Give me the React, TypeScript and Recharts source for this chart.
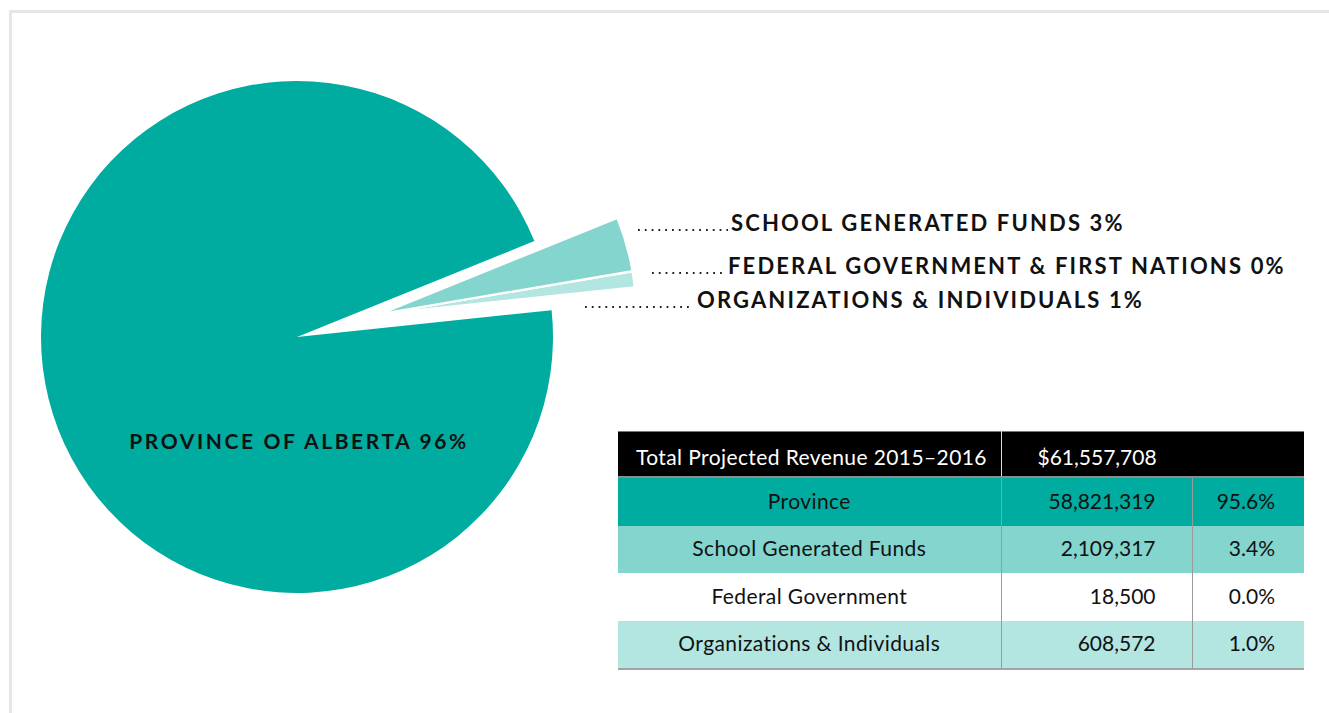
import React from "react";
import { Cell, Pie, PieChart } from "recharts";

// revenue sources, in the order they sit counter-clockwise from the 6° mark
const categories = ["Organizations & Individuals", "Federal Government", "School Generated Funds", "Province"];
const pieLabels = ["ORGANIZATIONS & INDIVIDUALS", "FEDERAL GOVERNMENT & FIRST NATIONS", "SCHOOL GENERATED FUNDS", "PROVINCE OF ALBERTA"];
const amounts = [608572, 18500, 2109317, 58821319];
const tableOrder = ["Province", "School Generated Funds", "Federal Government", "Organizations & Individuals"];
const totalLabel = "Total Projected Revenue 2015–2016";

const colors = ["#b3e5e1", "#d9f2f0", "#83d5ce", "#00ab9f"];
const rowColors: Record<string, string> = {
  Province: "#00ab9f",
  "School Generated Funds": "#83d5ce",
  "Federal Government": "#ffffff",
  "Organizations & Individuals": "#b3e5e1"
};

const data = categories.map((name, i) => ({ name, label: pieLabels[i], value: amounts[i] }));
const total = amounts.reduce((a, b) => a + b, 0);

const FONT = "Lato, 'Open Sans', sans-serif";
const CX = 297;
const CY = 337;
const R = 256;
// exploded slices are shifted out along ~15°
const EX = 83;
const EY = -23;

// where the callouts sit (text start, baseline, dotted leader span)
const callouts: Record<string, { x: number; y: number; d0: number; d1: number }> = {
  "School Generated Funds": { x: 731, y: 231, d0: 638, d1: 728 },
  "Federal Government": { x: 728, y: 274, d0: 652, d1: 725 },
  "Organizations & Individuals": { x: 697, y: 308, d0: 585, d1: 692 }
};

const fmt = (n: number) => n.toLocaleString("en-US");

function mainLabel(props: any) {
  if (props.payload?.name !== "Province") return null;
  return (
    <text
      x={props.cx + 2}
      y={props.cy + 112}
      textAnchor="middle"
      fill="#111"
      fontFamily={FONT}
      fontWeight={700}
      fontSize={21}
      letterSpacing={2.6}
    >
      {`${props.payload.label} ${Math.round(props.percent * 100)}%`}
    </text>
  );
}

function sideLabel(props: any) {
  const c = callouts[props.payload?.name];
  if (!c) return null;
  return (
    <g>
      <line x1={c.d0} x2={c.d1} y1={c.y - 1} y2={c.y - 1} stroke="#222" strokeWidth={1.8} strokeDasharray="1.8 5" />
      <text x={c.x} y={c.y} fill="#111" fontFamily={FONT} fontWeight={700} fontSize={22} letterSpacing={2.15}>
        {`${props.payload.label} ${Math.round(props.percent * 100)}%`}
      </text>
    </g>
  );
}

const cellBase: React.CSSProperties = { padding: 0, paddingBottom: 3, fontSize: 21, color: "#111", height: 44.5 };
const wordCell: React.CSSProperties = { ...cellBase, letterSpacing: 0.4 };

export default function App() {
  return (
    <div style={{ position: "relative", width: 1329, height: 713, background: "#fff", fontFamily: FONT, overflow: "hidden" }}>
      <style>{`body{margin:0}`}</style>
      <div
        style={{
          position: "absolute",
          left: 9,
          top: 10,
          right: -5,
          bottom: -5,
          borderTop: "3px solid #e6e6e6",
          borderLeft: "3px solid #e6e6e6"
        }}
      />
      <PieChart width={1329} height={713} margin={{ top: 0, right: 0, bottom: 0, left: 0 }} style={{ position: "absolute", left: 0, top: 0 }}>
        <Pie
          data={data}
          dataKey="value"
          nameKey="name"
          cx={CX}
          cy={CY}
          outerRadius={R}
          startAngle={6}
          endAngle={366}
          stroke="none"
          label={mainLabel}
          labelLine={false}
          isAnimationActive={false}
        >
          {data.map((d, i) => (
            <Cell key={d.name} fill={d.name === "Province" ? colors[i] : "transparent"} />
          ))}
        </Pie>
        <Pie
          data={data}
          dataKey="value"
          nameKey="name"
          cx={CX + EX}
          cy={CY + EY}
          outerRadius={R}
          startAngle={6}
          endAngle={366}
          label={sideLabel}
          labelLine={false}
          isAnimationActive={false}
        >
          {data.map((d, i) => (
            <Cell
              key={d.name}
              fill={d.name === "Province" ? "transparent" : colors[i]}
              stroke={d.name === "Province" ? "none" : "#fff"}
              strokeWidth={2}
            />
          ))}
        </Pie>
      </PieChart>
      <table
        style={{
          position: "absolute",
          left: 618,
          top: 431,
          width: 686,
          borderCollapse: "collapse",
          tableLayout: "fixed",
          fontFamily: FONT
        }}
      >
        <colgroup>
          <col style={{ width: 383 }} />
          <col style={{ width: 191 }} />
          <col style={{ width: 112 }} />
        </colgroup>
        <tbody>
          <tr style={{ background: "#000", borderTop: "1px solid #777", borderBottom: "2px solid #8c8c8c" }}>
            <td style={{ ...wordCell, height: 40, color: "#fff", paddingLeft: 18, paddingTop: 4, paddingBottom: 0, borderRight: "1px solid #ddd" }}>{totalLabel}</td>
            <td colSpan={2} style={{ ...cellBase, height: 40, color: "#fff", paddingLeft: 36, paddingTop: 4, paddingBottom: 0 }}>
              ${fmt(total)}
            </td>
          </tr>
          {tableOrder.map((name, r) => {
            const v = amounts[categories.indexOf(name)];
            return (
              <tr
                key={name}
                style={{
                  background: rowColors[name],
                  borderBottom: r === tableOrder.length - 1 ? "2px solid #a3a3a3" : "none"
                }}
              >
                <td style={{ ...wordCell, textAlign: "center", borderRight: "1px solid #9a9a9a" }}>{name}</td>
                <td style={{ ...cellBase, textAlign: "right", paddingRight: 36, borderRight: "1px solid #9a9a9a" }}>{fmt(v)}</td>
                <td style={{ ...cellBase, textAlign: "right", paddingRight: 29 }}>{((v / total) * 100).toFixed(1)}%</td>
              </tr>
            );
          })}
        </tbody>
      </table>
    </div>
  );
}
